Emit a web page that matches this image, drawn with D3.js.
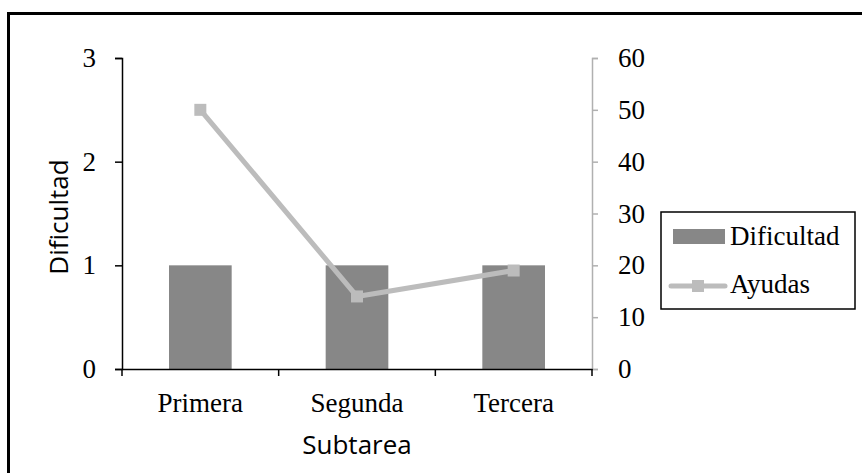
<!DOCTYPE html>
<html>
<head>
<meta charset="utf-8">
<script src="https://cdn.jsdelivr.net/npm/d3@7"></script>
<style>
  body { margin: 0; background: #fff; }
</style>
</head>
<body>
<div class="chart"></div>
<script>
const categories = ['Primera', 'Segunda', 'Tercera'];
const dificultad = [1, 1, 1];
const ayudas = [50, 14, 19];
const leftTicks = [0, 1, 2, 3];
const rightTicks = [0, 10, 20, 30, 40, 50, 60];

const width = 862,
  height = 473,
  plotLeft = 122,
  plotRight = 592,
  plotTop = 58,
  plotBottom = 369,
  barColor = '#878787',
  lineColor = '#bcbcbc',
  serif = '"Liberation Serif", "DejaVu Serif", serif',
  sans = '"Open Sans", "Liberation Sans", sans-serif';

const svg = d3.select('.chart')
  .append('svg')
  .attr('width', width)
  .attr('height', height);

// outer frame
svg.append('rect')
  .attr('x', 8.5)
  .attr('y', 13.5)
  .attr('width', 870)
  .attr('height', 480)
  .attr('fill', 'none')
  .attr('stroke', '#000')
  .attr('stroke-width', 3);

const xScale = d3.scaleBand()
  .domain(categories)
  .range([plotLeft, plotRight])
  .paddingInner(0.6)
  .paddingOuter(0.3);

const xBands = d3.scaleBand()
  .domain(categories)
  .range([plotLeft, plotRight]);

const yLeft = d3.scaleLinear()
  .domain([0, 3])
  .range([plotBottom, plotTop]);

const yRight = d3.scaleLinear()
  .domain([0, 60])
  .range([plotBottom, plotTop]);

// bars
svg.selectAll('.bar')
  .data(categories)
  .enter()
  .append('rect')
  .attr('class', 'bar')
  .attr('x', d => xScale(d))
  .attr('y', (d, i) => yLeft(dificultad[i]))
  .attr('width', xScale.bandwidth())
  .attr('height', (d, i) => yLeft(0) - yLeft(dificultad[i]))
  .attr('fill', barColor);

// left axis
const leftAxis = svg.append('g')
  .attr('transform', `translate(${plotLeft}, 0)`)
  .call(d3.axisLeft(yLeft).tickValues(leftTicks).tickFormat(d3.format('d'))
    .tickSize(7).tickPadding(19).tickSizeOuter(7));
leftAxis.select('.domain').attr('stroke', '#000').attr('stroke-width', 1.5);
leftAxis.selectAll('line').attr('stroke', '#000').attr('stroke-width', 1.5);
leftAxis.selectAll('text').style('font', `27px ${serif}`).attr('fill', '#000');

// right axis
const rightAxis = svg.append('g')
  .attr('transform', `translate(${plotRight}, 0)`)
  .call(d3.axisRight(yRight).tickValues(rightTicks).tickFormat(d3.format('d'))
    .tickSize(6).tickPadding(20).tickSizeOuter(6));
rightAxis.select('.domain').attr('stroke', '#b0b0b0').attr('stroke-width', 1.5);
rightAxis.selectAll('line').attr('stroke', '#b0b0b0').attr('stroke-width', 1.5);
rightAxis.selectAll('text').style('font', `27px ${serif}`).attr('fill', '#000');

// bottom axis, ticks sit on the band edges
const xAxis = svg.append('g')
  .attr('transform', `translate(0, ${plotBottom})`)
  .call(d3.axisBottom(xBands).tickSize(0).tickPadding(24));
xAxis.select('.domain').attr('stroke', '#000').attr('stroke-width', 1.5);
xAxis.selectAll('text').style('font', `27px ${serif}`).attr('fill', '#000');
xAxis.selectAll('.edge')
  .data(categories.map(d => xBands(d)).concat([plotRight]))
  .enter()
  .append('line')
  .attr('x1', d => d)
  .attr('x2', d => d)
  .attr('y1', 0)
  .attr('y2', 7)
  .attr('stroke', '#000')
  .attr('stroke-width', 1.5);

// line series
const line = d3.line()
  .x((d, i) => xBands(categories[i]) + xBands.bandwidth() / 2)
  .y(d => yRight(d));

svg.append('path')
  .attr('d', line(ayudas))
  .attr('stroke', lineColor)
  .attr('stroke-width', 5)
  .attr('fill', 'none');

svg.selectAll('.marker')
  .data(ayudas)
  .enter()
  .append('rect')
  .attr('class', 'marker')
  .attr('x', (d, i) => xBands(categories[i]) + xBands.bandwidth() / 2 - 6)
  .attr('y', d => yRight(d) - 6)
  .attr('width', 12)
  .attr('height', 12)
  .attr('fill', lineColor);

// axis titles
svg.append('text')
  .attr('x', 357)
  .attr('y', 454)
  .attr('text-anchor', 'middle')
  .style('font', `26px ${sans}`)
  .text('Subtarea');

svg.append('text')
  .attr('transform', `translate(68, 217) rotate(-90)`)
  .attr('text-anchor', 'middle')
  .style('font', `26px ${sans}`)
  .text('Dificultad');

// legend
const legend = svg.append('g')
  .attr('transform', 'translate(661, 212)');

legend.append('rect')
  .attr('width', 194)
  .attr('height', 97)
  .attr('fill', '#fff')
  .attr('stroke', '#000')
  .attr('stroke-width', 1.5);

legend.append('rect')
  .attr('x', 12)
  .attr('y', 17)
  .attr('width', 52)
  .attr('height', 15)
  .attr('fill', barColor);

legend.append('text')
  .attr('x', 69)
  .attr('y', 33)
  .style('font', `27px ${serif}`)
  .text('Dificultad');

legend.append('line')
  .attr('x1', 10)
  .attr('x2', 64)
  .attr('y1', 74)
  .attr('y2', 74)
  .attr('stroke', lineColor)
  .attr('stroke-width', 5)
  .attr('stroke-linecap', 'round');

legend.append('rect')
  .attr('x', 31)
  .attr('y', 68)
  .attr('width', 12)
  .attr('height', 12)
  .attr('fill', lineColor);

legend.append('text')
  .attr('x', 69)
  .attr('y', 81)
  .style('font', `27px ${serif}`)
  .text('Ayudas');
</script>
</body>
</html>
